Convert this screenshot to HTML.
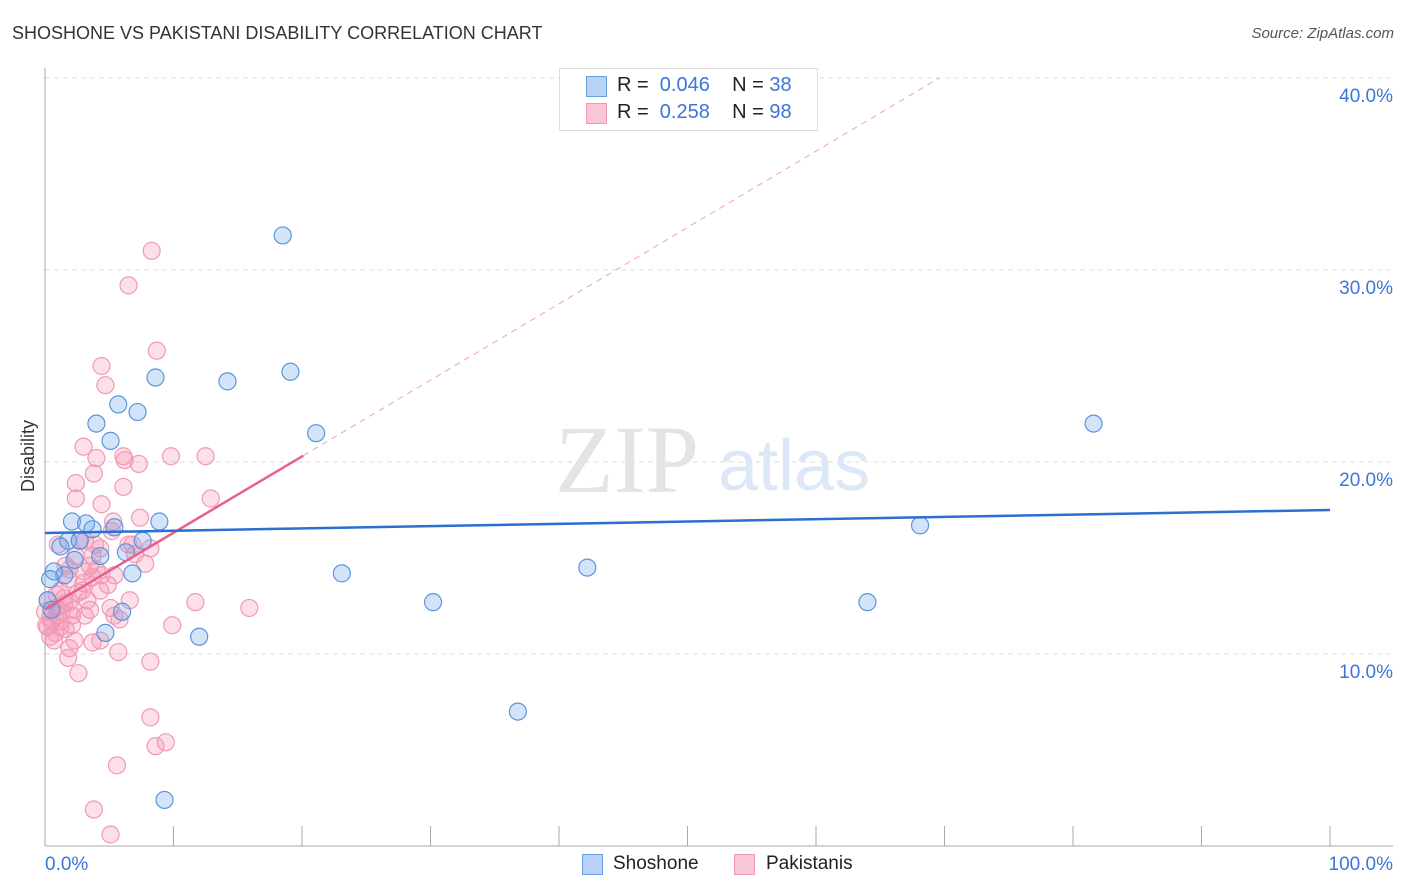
<!DOCTYPE html>
<html><head><meta charset="utf-8"><style>
body{margin:0;background:#fff;font-family:"Liberation Sans",sans-serif;}
#wrap{position:relative;width:1406px;height:892px;overflow:hidden}
.t{position:absolute;white-space:nowrap}
</style></head><body>
<div id="wrap">
<div class="t" style="left:12px;top:23px;font-size:18px;color:#333">SHOSHONE VS PAKISTANI DISABILITY CORRELATION CHART</div>
<div class="t" style="right:12px;top:25px;font-size:15px;color:#555;font-style:italic">Source: ZipAtlas.com</div>
<svg id="svg" width="1406" height="892" style="position:absolute;left:0;top:0"></svg>
</div>
<script>
const yTicks=[10,20,30,40];
const yTickLabels=["10.0%","20.0%","30.0%","40.0%"];
const xTickLabels=["0.0%","100.0%"];
const shoX=[18.5,19.1,8.6,14.2,5.7,7.2,4.0,5.1,21.1,81.6,2.1,3.2,3.7,5.4,8.9,68.1,1.8,1.2,7.6,6.3,4.3,0.7,1.5,0.4,6.8,23.1,42.2,30.2,64.0,6.0,4.7,12.0,36.8,9.3,2.7,2.3,0.2,0.5];
const shoY=[31.8,24.7,24.4,24.2,23.0,22.6,22.0,21.1,21.5,22.0,16.9,16.8,16.5,16.6,16.9,16.7,15.9,15.6,15.9,15.3,15.1,14.3,14.1,13.9,14.2,14.2,14.5,12.7,12.7,12.2,11.1,10.9,7.0,2.4,15.9,14.9,12.8,12.3];
const pakX=[4.7,8.3,6.5,8.7,4.4,3.0,4.0,6.1,6.2,7.3,9.8,12.5,2.4,3.8,6.1,2.4,4.4,12.9,7.4,5.3,5.2,6.8,7.8,2.7,1.0,2.4,3.7,3.5,3.0,4.0,4.9,1.8,1.2,2.9,4.3,5.1,1.5,0.9,0.2,1.3,2.1,3.1,5.8,11.7,15.9,9.9,2.1,1.2,0.4,0.2,0.8,1.6,3.7,1.9,1.8,5.7,8.2,2.6,8.2,9.4,8.6,5.6,3.8,5.1,0.7,0.4,1.0,1.5,3.3,1.9,4.3,7.0,3.0,3.7,5.4,6.6,0.0,0.1,0.5,1.2,1.9,2.6,3.5,0.9,4.3,2.3,3.1,1.6,5.4,2.2,4.4,6.5,8.2,3.9];
const pakY=[24.0,31.0,29.2,25.8,25.0,20.8,20.2,20.3,20.1,19.9,20.3,20.3,18.9,19.4,18.7,18.1,17.8,18.1,17.1,16.9,16.4,15.7,14.7,15.9,15.7,15.1,15.1,14.6,14.3,14.4,13.6,13.9,13.3,13.3,13.3,12.4,12.9,12.4,12.8,12.2,12.0,12.0,11.8,12.7,12.4,11.5,11.5,11.7,11.9,11.4,11.1,11.3,10.6,10.3,9.8,10.1,9.6,9.0,6.7,5.4,5.2,4.2,1.9,0.6,10.7,10.9,12.0,12.6,12.8,14.4,15.5,15.2,13.7,14.0,12.0,12.8,12.2,11.5,11.7,11.4,12.7,13.2,12.3,13.1,10.7,10.7,15.9,14.6,14.1,12.3,14.1,15.7,15.5,15.7];
const shoLine=[16.3,17.5]; // y at x=0 and x=100
const pakLine=[12.34,0.3975,20.1]; // intercept, slope, solid end
const X=v=>45+v*12.85, Y=v=>846-v*19.2;
const svg=document.getElementById('svg');const NS='http://www.w3.org/2000/svg';
function mk(t,a){const e=document.createElementNS(NS,t);for(const k in a)e.setAttribute(k,a[k]);svg.appendChild(e);return e;}
yTicks.forEach((v,i)=>{const g=mk('line',{x1:45,x2:1393,y1:Y(v),y2:Y(v),stroke:'#ddd','stroke-dasharray':'5,4'});


const t=mk('text',{x:1393,y:Y(v)+24,'text-anchor':'end','font-size':19,fill:'#3b75d9','font-family':'Liberation Sans'});t.textContent=yTickLabels[i];

});
mk('line',{x1:45,x2:45,y1:68,y2:846,stroke:'#aaa'});
mk('line',{x1:45,x2:1393,y1:846,y2:846,stroke:'#aaa'});
for(let i=0;i<=10;i++){const l=mk('line',{x1:X(i*10),x2:X(i*10),y1:826,y2:846,stroke:'#aaa'});

}
[[0,'start',45],[1,'end',1393]].forEach(([i,a,x])=>{const t=mk('text',{x:x,y:870,'text-anchor':a,'font-size':19,fill:'#3b75d9','font-family':'Liberation Sans'});t.textContent=xTickLabels[i];

});
const yt=mk('text',{x:34,y:456,'text-anchor':'middle','font-size':18,fill:'#333',transform:'rotate(-90 34 456)','font-family':'Liberation Sans'});yt.textContent='Disability';


const w1=mk('text',{x:555,y:492,'font-size':96,fill:'#e4e4e4','font-family':'Liberation Serif'});w1.textContent='ZIP';


const w2=mk('text',{x:718,y:490,'font-size':72,fill:'#dce8f7','font-family':'Liberation Sans'});w2.textContent='atlas';


pakX.forEach((v,i)=>{const c=mk('circle',{cx:X(v),cy:Y(pakY[i]),r:8.5,fill:'rgba(244,150,180,0.3)',stroke:'#f09ab5','stroke-width':1.2});

});
shoX.forEach((v,i)=>{const c=mk('circle',{cx:X(v),cy:Y(shoY[i]),r:8.5,fill:'rgba(110,165,235,0.3)',stroke:'#5b95dc','stroke-width':1.2});

});
const pe=(40-pakLine[0])/pakLine[1];
const d=mk('line',{x1:X(pakLine[2]),y1:Y(pakLine[0]+pakLine[1]*pakLine[2]),x2:X(pe),y2:Y(40),stroke:'#f0a0b8','stroke-dasharray':'6,5','stroke-width':1});


const p=mk('line',{x1:X(0),y1:Y(pakLine[0]),x2:X(pakLine[2]),y2:Y(pakLine[0]+pakLine[1]*pakLine[2]),stroke:'#e8608c','stroke-width':2.5});


const s=mk('line',{x1:X(0),y1:Y(shoLine[0]),x2:X(100),y2:Y(shoLine[1]),stroke:'#2a6fd1','stroke-width':2.5});


</script>
<div class="t" style="left:559px;top:68px;width:257px;height:61px;border:1px solid #ddd;background:#fff"></div>
<div class="t" style="left:586px;top:76px;width:19px;height:19px;background:#b9d3f6;border:1px solid #6a9fe0"></div>
<div class="t" style="left:617px;top:74px;font-size:20px;color:#222">R = <span style="color:#3b75d9">&nbsp;0.046</span>&nbsp;&nbsp;&nbsp; N = <span style="color:#3b75d9">38</span></div>
<div class="t" style="left:586px;top:103px;width:19px;height:19px;background:#f9c6d6;border:1px solid #f09ab5"></div>
<div class="t" style="left:617px;top:101px;font-size:20px;color:#222">R = <span style="color:#3b75d9">&nbsp;0.258</span>&nbsp;&nbsp;&nbsp; N = <span style="color:#3b75d9">98</span></div>
<div class="t" style="left:582px;top:854px;width:19px;height:19px;background:#b9d3f6;border:1px solid #6a9fe0"></div>
<div class="t" style="left:613px;top:853px;font-size:19px;color:#222">Shoshone</div>
<div class="t" style="left:734px;top:854px;width:19px;height:19px;background:#f9c6d6;border:1px solid #f09ab5"></div>
<div class="t" style="left:766px;top:853px;font-size:19px;color:#222">Pakistanis</div>
</body></html>
